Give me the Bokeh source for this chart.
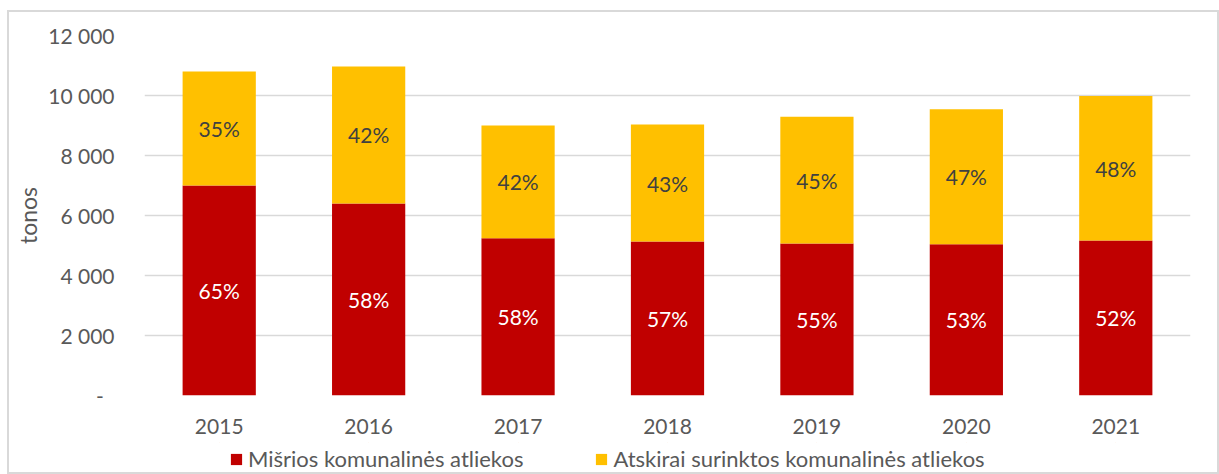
from bokeh.plotting import figure
from bokeh.layouts import column
from bokeh.models import Legend, LegendItem, FixedTicker, ColumnDataSource
from bokeh.core.properties import value
from bokeh.embed import file_html
from bokeh.resources import INLINE

years = ["2015", "2016", "2017", "2018", "2019", "2020", "2021"]
mixed = [7000, 6400, 5240, 5130, 5070, 5040, 5170]
separate = [3800, 4570, 3760, 3900, 4220, 4500, 4810]
series_names = ["Mišrios komunalinės atliekos", "Atskirai surinktos komunalinės atliekos"]
y_ticks = [0, 2000, 4000, 6000, 8000, 10000, 12000]

RED = "#C00000"
YELLOW = "#FFC000"
GRAY = "#595959"
FONT = "Lato"

# ---------------- main chart ----------------
p = figure(x_range=years, y_range=(0, 12000), width=1208, height=430,
           output_backend="svg", toolbar_location=None,
           min_border_left=135, min_border_right=27, min_border_top=23, min_border_bottom=47)
p.outline_line_color = None

src = ColumnDataSource(dict(years=years, mixed=mixed, separate=separate))
rs = p.vbar_stack(["mixed", "separate"], x="years", width=0.49, source=src,
                  color=[RED, YELLOW], line_color=None)

# percentage labels
tot = [m + s for m, s in zip(mixed, separate)]
lx, ly, lt, lc = [], [], [], []
for yr, m, s, t in zip(years, mixed, separate, tot):
    pm = round(m / t * 100)
    lx += [yr, yr]
    ly += [m / 2, m + s / 2]
    lt += [f"{pm}%", f"{100 - pm}%"]
    lc += ["#ffffff", "#404040"]
lsrc = ColumnDataSource(dict(x=lx, y=ly, text=lt, color=lc))
p.text(x="x", y="y", text="text", source=lsrc, text_color="color",
       text_align="center", text_baseline="middle",
       text_font=value(FONT), text_font_size="21px")

# axes
p.yaxis.ticker = FixedTicker(ticks=y_ticks)
p.yaxis.major_label_overrides = {
    t: ("-\u00a0\u00a0" if t == 0 else f"{t:,}".replace(",", " ")) for t in y_ticks
}
p.yaxis.axis_line_color = None
p.yaxis.major_tick_line_color = None
p.yaxis.minor_tick_line_color = None
p.yaxis.major_label_standoff = 24
p.yaxis.major_label_text_font = FONT
p.yaxis.major_label_text_font_size = "21px"
p.yaxis.major_label_text_color = GRAY
p.yaxis.axis_label = "tonos"
p.yaxis.axis_label_text_font = FONT
p.yaxis.axis_label_text_font_size = "23px"
p.yaxis.axis_label_text_font_style = "normal"
p.yaxis.axis_label_text_color = GRAY
p.yaxis.axis_label_standoff = 3

p.xaxis.axis_line_color = None
p.xaxis.major_tick_line_color = None
p.xaxis.major_label_standoff = 17
p.xaxis.major_label_text_font = FONT
p.xaxis.major_label_text_font_size = "21px"
p.xaxis.major_label_text_color = GRAY

p.xgrid.grid_line_color = None
p.ygrid.grid_line_color = "#d9d9d9"
p.ygrid.grid_line_width = 1.5

# ---------------- legend strip ----------------
# same series drawn (hair-thin, outside the y range) into a strip; they only
# supply the legend swatches
lg = figure(width=1208, height=30, x_range=years, y_range=(-2000, -1000),
            output_backend="svg", toolbar_location=None,
            min_border=0, min_border_left=0, min_border_right=0,
            min_border_top=0, min_border_bottom=0)
lg.axis.visible = False
lg.grid.visible = False
lg.outline_line_color = None
lr = lg.vbar_stack(["mixed", "separate"], x="years", width=0.0005, source=src,
                   color=[RED, YELLOW], line_color=None)

legend = Legend(items=[LegendItem(label=series_names[i], renderers=[lr[i]]) for i in range(2)],
                orientation="horizontal", location=(85, 0),
                padding=0, margin=0, spacing=71, label_standoff=5,
                glyph_width=14, glyph_height=14,
                label_text_font=FONT, label_text_font_size="22px",
                label_text_color=GRAY, border_line_color=None,
                background_fill_alpha=0)
lg.add_layout(legend, "center")

layout = column(p, lg, spacing=0,
                styles={"border": "2px solid #d9d9d9", "margin-left": "7px", "margin-top": "10px"})

open("out.html", "w").write(file_html(layout, INLINE))
